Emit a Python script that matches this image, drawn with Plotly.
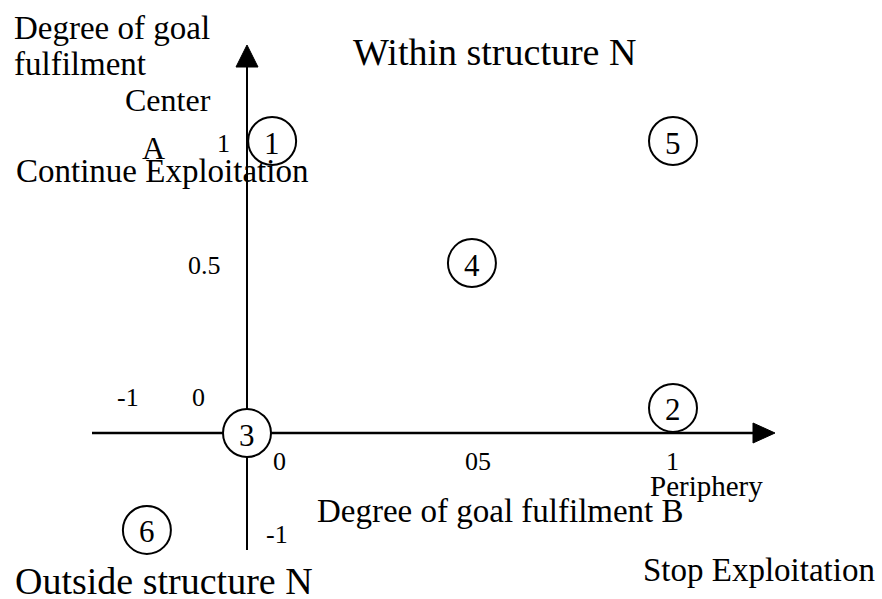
import plotly.graph_objects as go

# ---- data (diagram units: x = degree of goal fulfilment B, y = degree of goal fulfilment A)
circle_labels = ["1", "2", "3", "4", "5", "6"]
circle_x = [0.059, 1.0, 0.0, 0.528, 1.0, -0.235]
circle_y = [1.0, 0.086, 0.0, 0.582, 1.0, -0.332]

# tick labels as drawn in the diagram
ytick_text = ["1", "0.5", "0", "-1"]
ytick_x = [-0.056, -0.099, -0.115, -0.279]
ytick_y = [0.99, 0.575, 0.123, 0.123]

xtick_text = ["0", "05", "1", "-1"]
xtick_x = [0.077, 0.542, 0.998, 0.07]
xtick_y = [-0.099, -0.099, -0.099, -0.349]

# ---- geometry helpers (pixel layout of the 882x599 canvas)
W, H = 882, 599
OX, OY = 247, 433      # pixel position of origin
UX, UY = 426, 292      # pixels per unit


def px2x(p):
    return (p - OX) / UX


def py2y(p):
    return (OY - p) / UY


FONT = "Liberation Serif, Times New Roman, serif"

fig = go.Figure()

fig.add_trace(go.Scatter(
    x=circle_x, y=circle_y, mode="markers",
    marker=dict(size=48, color="white", line=dict(color="black", width=2)),
    hoverinfo="skip", showlegend=False,
))

annotations = []
# circle numbers, drawn slightly low like the reference
for t, x, y in zip(circle_labels, circle_x, circle_y):
    annotations.append(dict(x=x, y=y, xref="x", yref="y", text=t, showarrow=False,
                            xanchor="center", yanchor="middle", yshift=-2,
                            font=dict(family=FONT, size=31, color="black")))

shapes = []
# horizontal axis
shapes.append(dict(type="line", xref="x", yref="y", x0=px2x(92), x1=px2x(755),
                   y0=0, y1=0, line=dict(color="black", width=2.5), layer="below"))
shapes.append(dict(type="path", xref="x", yref="y",
                   path=f"M {px2x(753)} {py2y(OY-10)} L {px2x(775)} 0 L {px2x(753)} {py2y(OY+10)} Z",
                   fillcolor="black", line=dict(color="black", width=1), layer="below"))
# vertical axis
shapes.append(dict(type="line", xref="x", yref="y", x0=0, x1=0,
                   y0=py2y(550), y1=py2y(65), line=dict(color="black", width=2), layer="below"))
shapes.append(dict(type="path", xref="x", yref="y",
                   path=f"M {px2x(OX-11)} {py2y(67)} L 0 {py2y(45)} L {px2x(OX+11)} {py2y(67)} Z",
                   fillcolor="black", line=dict(color="black", width=1), layer="below"))

for t, x, y in zip(ytick_text, ytick_x, ytick_y):
    annotations.append(dict(x=x, y=y, xref="x", yref="y", text=t, showarrow=False,
                            xanchor="center", yanchor="middle",
                            font=dict(family=FONT, size=26, color="black")))
for t, x, y in zip(xtick_text, xtick_x, xtick_y):
    annotations.append(dict(x=x, y=y, xref="x", yref="y", text=t, showarrow=False,
                            xanchor="center", yanchor="middle",
                            font=dict(family=FONT, size=26, color="black")))

labels = [
    ("Degree of goal", 12, 28, "left", 33),
    ("fulfilment", 12, 64, "left", 33),
    ("Center", 168, 100, "center", 32),
    ("A", 153, 148, "center", 32),
    ("Continue Exploitation", 14, 171, "left", 33),
    ("Within structure N", 351, 52, "left", 38),
    ("Periphery", 648, 486, "left", 29),
    ("Degree of goal fulfilment B", 315, 511, "left", 33),
    ("Stop Exploitation", 641, 570, "left", 33),
    ("Outside structure N", 13, 581, "left", 38),
]
for t, px, py, anc, sz in labels:
    annotations.append(dict(x=px / W, y=1 - py / H, xref="paper", yref="paper", text=t,
                            showarrow=False, xanchor=anc, yanchor="middle",
                            font=dict(family=FONT, size=sz, color="black")))

fig.update_layout(
    width=W, height=H,
    margin=dict(l=0, r=0, t=0, b=0),
    paper_bgcolor="white", plot_bgcolor="white",
    xaxis=dict(range=[px2x(0), px2x(W)], visible=False, fixedrange=True),
    yaxis=dict(range=[py2y(H), py2y(0)], visible=False, fixedrange=True),
    shapes=shapes, annotations=annotations,
)

fig.write_html(
    "out.html",
    config={"displayModeBar": False},
    post_script="document.body.style.margin='0';document.body.style.overflow='hidden';",
)
